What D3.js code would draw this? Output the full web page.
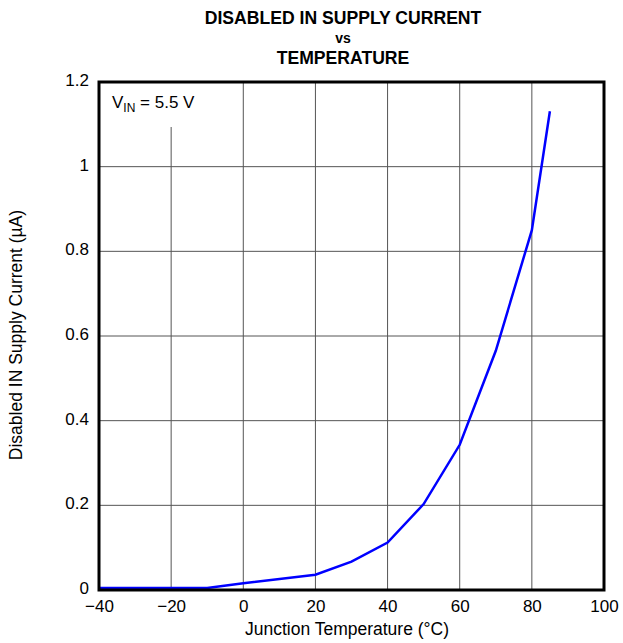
<!DOCTYPE html>
<html>
<head>
<meta charset="utf-8">
<script src="https://cdn.jsdelivr.net/npm/d3@7"></script>
<style>
  body { margin: 0; background: #fff; }
  text { font-family: "Liberation Sans", Arial, sans-serif; fill: #000; }
</style>
</head>
<body>
<div id="chart"></div>
<script>
// data
var temps    = [-40, -10, 0, 20, 30, 40, 50, 60, 70, 80, 85];
var currents = [0.005, 0.005, 0.016, 0.036, 0.067, 0.112, 0.203, 0.343, 0.565, 0.85, 1.131];

var xTicks = [-40, -20, 0, 20, 40, 60, 80, 100];
var yTicks = [0, 0.2, 0.4, 0.6, 0.8, 1, 1.2];

var width = 623, height = 643;
var margin = {top: 82, right: 19, bottom: 53, left: 99};

var svg = d3.select('#chart').append('svg')
            .attr('width', width).attr('height', height);

var x = d3.scaleLinear().domain([-40, 100]).range([margin.left, width - margin.right]);
var y = d3.scaleLinear().domain([0, 1.2]).range([height - margin.bottom, margin.top]);

// title
var title = svg.append('g').attr('text-anchor', 'middle');
title.append('text').attr('x', 343).attr('y', 24)
     .style('font-weight', 'bold').style('font-size', '17.6px').text('DISABLED IN SUPPLY CURRENT');
title.append('text').attr('x', 343).attr('y', 43)
     .style('font-weight', 'bold').style('font-size', '14px').text('vs');
title.append('text').attr('x', 343).attr('y', 64)
     .style('font-weight', 'bold').style('font-size', '17.6px').text('TEMPERATURE');

// grid
svg.append('g').selectAll('line.v')
   .data(xTicks.slice(1, -1))
   .enter().append('line')
   .attr('x1', function(d){ return x(d); })
   .attr('x2', function(d){ return x(d); })
   .attr('y1', function(d){ return d === -20 ? 127 : y(1.2); })
   .attr('y2', y(0))
   .attr('stroke', '#555').attr('stroke-width', 1);

svg.append('g').selectAll('line.h')
   .data(yTicks.slice(1, -1))
   .enter().append('line')
   .attr('x1', x(-40)).attr('x2', x(100))
   .attr('y1', function(d){ return y(d); })
   .attr('y2', function(d){ return y(d); })
   .attr('stroke', '#555').attr('stroke-width', 1);

// axes (labels only)
var xAxis = svg.append('g')
   .attr('transform', 'translate(0,' + (y(0) + 4) + ')')
   .call(d3.axisBottom(x).tickValues(xTicks).tickSize(0).tickPadding(6)
          .tickFormat(function(d){ return d < 0 ? '\u2212' + Math.abs(d) : d; }));
xAxis.select('.domain').remove();
xAxis.selectAll('text').style('font-size', '17px').attr('fill', '#000');

var yAxis = svg.append('g')
   .attr('transform', 'translate(' + (x(-40) - 10) + ',-2)')
   .call(d3.axisLeft(y).tickValues(yTicks).tickSize(0).tickPadding(0)
          .tickFormat(function(d){ return d; }));
yAxis.select('.domain').remove();
yAxis.selectAll('text').style('font-size', '17px').attr('fill', '#000');

// axis titles
svg.append('text').attr('x', 347).attr('y', 635).attr('text-anchor', 'middle')
   .style('font-size', '17.5px').text('Junction Temperature (\u00B0C)');
svg.append('text')
   .attr('transform', 'translate(22,335) rotate(-90)')
   .attr('text-anchor', 'middle')
   .style('font-size', '17.5px').text('Disabled IN Supply Current (\u00B5A)');

// annotation
var ann = svg.append('text').attr('x', 112).attr('y', 108).style('font-size', '17px');
ann.append('tspan').text('V');
ann.append('tspan').attr('dy', 4).style('font-size', '12px').text('IN');
ann.append('tspan').attr('dy', -4).text(' = 5.5 V');

// curve
var line = d3.line()
   .x(function(d, i){ return x(temps[i]); })
   .y(function(d){ return y(d); });

svg.append('path').datum(currents)
   .attr('d', line)
   .attr('fill', 'none')
   .attr('stroke', '#0000ff')
   .attr('stroke-width', 2.5);

// frame
svg.append('rect')
   .attr('x', x(-40)).attr('y', y(1.2))
   .attr('width', x(100) - x(-40)).attr('height', y(0) - y(1.2))
   .attr('fill', 'none').attr('stroke', '#000').attr('stroke-width', 3);
</script>
</body>
</html>
